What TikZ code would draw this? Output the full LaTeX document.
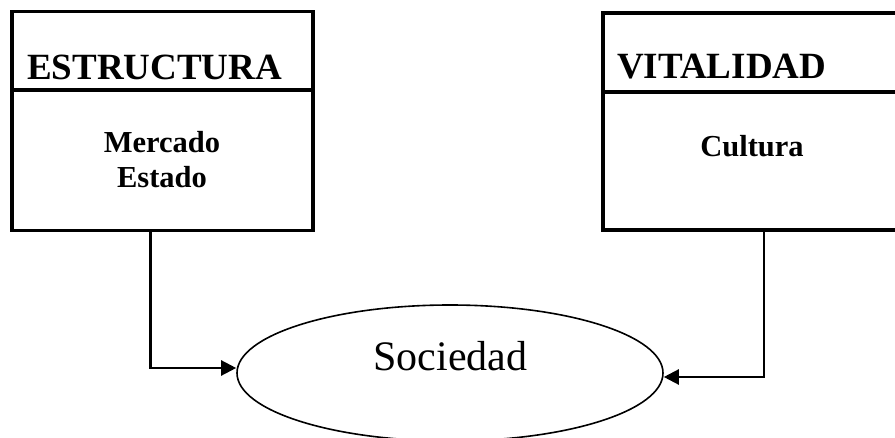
\documentclass[tikz,border=0pt]{standalone}
\usepackage{fontspec}
\setmainfont{Liberation Serif}
\usetikzlibrary{arrows.meta,shapes.geometric}
\tikzset{%
  bloque/.style   = {shape=rectangle, draw, line width=3.5pt, inner sep=0pt},%
  titulo/.style   = {anchor=base west, inner sep=0pt,%
                     font=\fontsize{37}{37}\selectfont\bfseries},%
  cuerpo/.style   = {anchor=base, inner sep=0pt, align=center,%
                     font=\fontsize{30.5}{35}\selectfont\bfseries},%
  divisor/.style  = {line width=4.5pt},%
  enlace/.style   = {line width=2.3pt, -{Triangle[length=15pt,width=15pt]}}%
}

\begin{document}
\begin{tikzpicture}[x=1pt,y=-1pt,
  sociedad/.style={ellipse, draw, line width=1.6pt, inner sep=0pt,
                   minimum width=426pt, minimum height=136pt}]
	\useasboundingbox (0,0) rectangle (895,438);
	\clip (0,0) rectangle (895,438);
	% cajas
	\node [bloque, minimum width=301pt, minimum height=219pt] (estr) at (162.5,121) {};
	\node [bloque, minimum width=300pt, minimum height=217pt] (vital) at (753,121.5) {};
	\draw [divisor] (estr.west |- 0,90) -- (estr.east |- 0,90);
	\draw [divisor] (vital.west |- 0,92) -- (vital.east |- 0,92);
	\node [titulo] (estrtit) at (27,80) {ESTRUCTURA};
	\node [titulo] (vitaltit) at (617,78.5) {VITALIDAD};
	\node [cuerpo] (estrtxt) at (162,188) {Mercado\\Estado};
	\node [cuerpo] (vitaltxt) at (752,157) {Cultura};
	% elipse
	\node [sociedad] (soc) at (450,373) {};
	\node [anchor=base, inner sep=0pt, font=\fontsize{42}{42}\selectfont] (soclbl) at (450.5,371) {Sociedad};
	% flechas
	\draw [enlace] ([xshift=-12pt]estr.south) |- ([yshift=5pt]soc.west);
	\draw [enlace] ([xshift=11pt]vital.south) |- ([yshift=-4pt]soc.east);
\end{tikzpicture}
\end{document}
